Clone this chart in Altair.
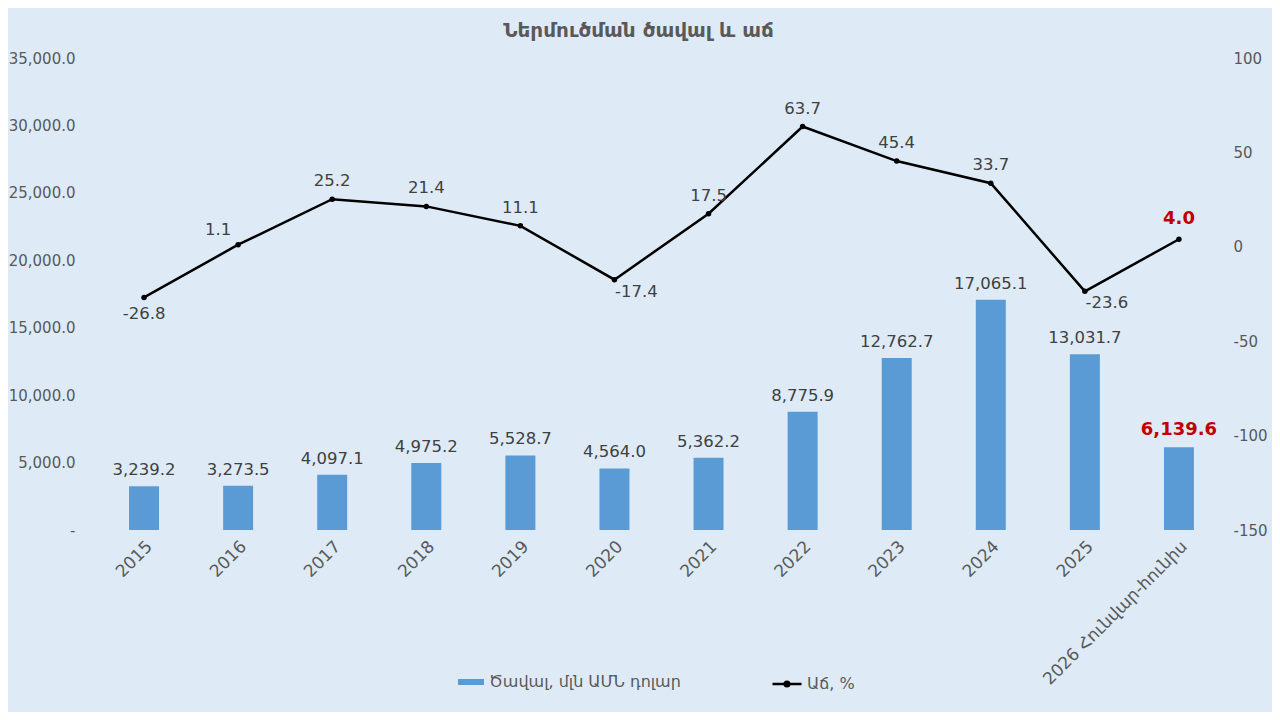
import altair as alt
import pandas as pd

categories = ["2015", "2016", "2017", "2018", "2019", "2020", "2021", "2022",
              "2023", "2024", "2025", "2026 Հունվար-հունիս"]
volume = [3239.2, 3273.5, 4097.1, 4975.2, 5528.7, 4564.0, 5362.2, 8775.9,
          12762.7, 17065.1, 13031.7, 6139.6]
growth = [-26.8, 1.1, 25.2, 21.4, 11.1, -17.4, 17.5, 63.7, 45.4, 33.7, -23.6, 4.0]
growth_label_pos = ["below", "left", "above", "above", "above", "belowright",
                    "above", "above", "above", "above", "belowright", "above"]
highlight = [False] * 11 + [True]
title_text = "Ներմուծման ծավալ և աճ"
bar_series = "Ծավալ, մլն ԱՄՆ դոլար"
line_series = "Աճ, %"

df = pd.DataFrame({
    "cat": categories,
    "vol": volume,
    "growth": growth,
    "pos": growth_label_pos,
    "hl": highlight,
    "s_bar": [bar_series] * len(categories),
    "s_line": [line_series] * len(categories),
})

FONT = "DejaVu Sans"
GRAY = "#595959"
LBL = "#404040"
RED = "#c00000"

x = alt.X("cat:N", sort=categories, title=None,
          axis=alt.Axis(labelAngle=-45, labelFontSize=17, labelColor=GRAY, labelLimit=0,
                        ticks=False, domain=False, labelPadding=8, labelFont=FONT))

y_vol = alt.Y("vol:Q", scale=alt.Scale(domain=[0, 35000]), title=None,
              axis=alt.Axis(values=list(range(0, 35001, 5000)),
                            labelExpr="datum.value == 0 ? '-' : format(datum.value, ',.1f')",
                            grid=False, domain=False, ticks=False, labelFontSize=15,
                            labelColor=GRAY, labelPadding=22, labelFont=FONT))

y_gr = alt.Y("growth:Q", scale=alt.Scale(domain=[-150, 100]), title=None,
             axis=alt.Axis(orient="right", values=list(range(-150, 101, 50)),
                           labelExpr="replace(format(datum.value, 'd'), '\u2212', '-')",
                           grid=False, domain=False, ticks=False, labelFontSize=15,
                           labelColor=GRAY, labelPadding=7, labelFont=FONT))

base = alt.Chart(df).transform_calculate(
    glabel="replace(format(datum.growth, '.1f'), '\u2212', '-')"
)

bars = base.mark_bar(size=30).encode(
    x=x, y=y_vol,
    color=alt.Color("s_bar:N", scale=alt.Scale(range=["#5b9bd5"]),
                    legend=alt.Legend(title=None, orient="none", legendX=360, legendY=610,
                                      symbolType="M-1,-0.23L1,-0.23L1,0.23L-1,0.23Z",
                                      symbolSize=676, labelFontSize=16, labelColor=GRAY,
                                      labelFont=FONT, labelOffset=4, padding=0,
                                      labelLimit=0)),
)
bar_text = base.transform_filter("!datum.hl").mark_text(
    baseline="bottom", dy=-8, fontSize=16.5, font=FONT, color=LBL
).encode(x=x, y=y_vol, text=alt.Text("vol:Q", format=",.1f"))
bar_text_hl = base.transform_filter("datum.hl").mark_text(
    baseline="bottom", dy=-8, fontSize=18, font=FONT, color=RED, fontWeight="bold"
).encode(x=x, y=y_vol, text=alt.Text("vol:Q", format=",.1f"))

bar_layer = alt.layer(bars, bar_text, bar_text_hl)

line = base.mark_line(strokeWidth=2.5).encode(
    x=x, y=y_gr,
    stroke=alt.Stroke("s_line:N", scale=alt.Scale(range=["black"]),
                      legend=alt.Legend(title=None, orient="none", legendX=674, legendY=610,
                                        symbolType="M-1,0L1,0M0.16,0A0.16,0.16,0,1,1,-0.16,0A0.16,0.16,0,1,1,0.16,0Z",
                                        symbolSize=841, symbolStrokeWidth=2.5,
                                        symbolFillColor="black", labelFontSize=16,
                                        labelColor=GRAY, labelFont=FONT, labelOffset=4,
                                        padding=0, labelLimit=0)),
)
points = base.mark_point(filled=True, color="black", size=30, opacity=1).encode(x=x, y=y_gr)

offsets = {"above": (0, -18), "below": (0, 17), "left": (-20, -15), "belowright": (22, 12)}
gr_texts = []
for p, (dx, dy) in offsets.items():
    gr_texts.append(
        base.transform_filter(f"datum.pos == '{p}' && !datum.hl").mark_text(
            dx=dx, dy=dy, fontSize=16.5, font=FONT, color=LBL, baseline="middle"
        ).encode(x=x, y=y_gr, text="glabel:N")
    )
gr_text_hl = base.transform_filter("datum.hl").mark_text(
    dy=-20, fontSize=18, font=FONT, color=RED, fontWeight="bold", baseline="middle"
).encode(x=x, y=y_gr, text="glabel:N")

line_layer = alt.layer(line, points, *gr_texts, gr_text_hl)

chart = alt.layer(bar_layer, line_layer).resolve_scale(
    y="independent", color="independent", stroke="independent"
).properties(
    width=1129, height=472,
    padding={"left": 89, "top": 50, "right": 46, "bottom": 182},
    autosize=alt.AutoSizeParams(type="none"),
    title=alt.TitleParams(title_text, fontSize=20, fontWeight="bold", color=GRAY,
                          font=FONT, anchor="middle", dx=-23, offset=10),
).configure(background="#deebf7").configure_view(stroke=None)

chart.save("out.html", embed_options={"renderer": "svg", "actions": False})
